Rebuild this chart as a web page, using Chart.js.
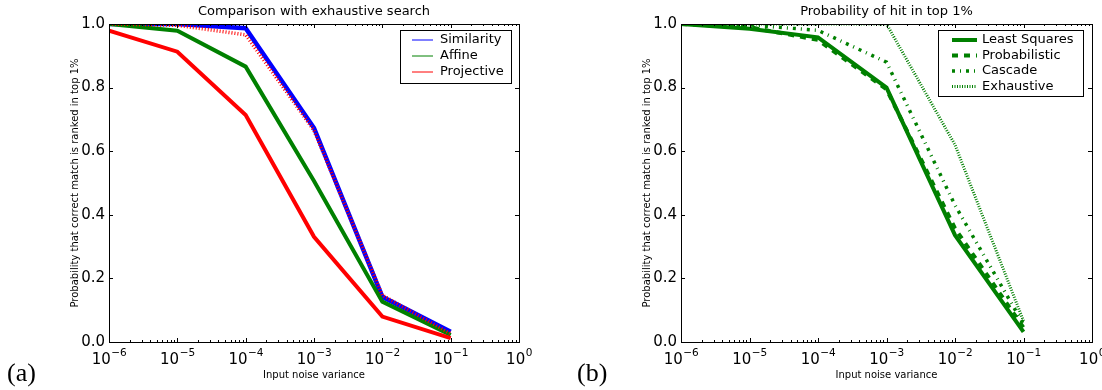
<!DOCTYPE html>
<html lang="en">
<head>
<meta charset="UTF-8">
<title>Input noise variance</title>
<script src="https://cdn.jsdelivr.net/npm/chart.js@4.4.0/dist/chart.umd.min.js"></script>
<style>
    body { margin: 0; background: #fff; width: 1102px; height: 390px; position: relative; overflow: hidden; }
    canvas { position: absolute; top: 0; }
    #chartA { left: 0; }
    #chartB { left: 560px; }
    .tag { position: absolute; top: 358px; font-family: "Liberation Serif", serif; font-size: 26px; color: #000; }
</style>
</head>
<body>
<canvas id="chartA" width="560" height="390"></canvas>
<canvas id="chartB" width="542" height="390"></canvas>
<div class="tag" style="left:7px">(a)</div>
<div class="tag" style="left:577px">(b)</div>
<script>
// x positions of the measurements (noise variance)
const noise = [1e-6, 1e-5, 1e-4, 1e-3, 1e-2, 1e-1];
const xTicks = [1e-6, 1e-5, 1e-4, 1e-3, 1e-2, 1e-1, 1];
const xTickExp = ['-6', '-5', '-4', '-3', '-2', '-1', '0'];
const yTicks = [0, 0.2, 0.4, 0.6, 0.8, 1.0];
const yTickLabels = ['0.0', '0.2', '0.4', '0.6', '0.8', '1.0'];

// (a) comparison with exhaustive search
const similarity = [1.0, 1.0, 0.987, 0.673, 0.142, 0.032];
const affine = [1.0, 0.979, 0.866, 0.506, 0.127, 0.022];
const projective = [0.979, 0.913, 0.714, 0.331, 0.080, 0.012];
const projectiveDotted = [1.0, 0.996, 0.966, 0.665, 0.147, 0.026];

// (b) probability of hit in top 1%
const leastSquares = [1.0, 0.985, 0.958, 0.800, 0.336, 0.032];
const probabilistic = [1.0, 0.990, 0.950, 0.795, 0.357, 0.045];
const cascade = [1.0, 0.997, 0.980, 0.880, 0.430, 0.056];
const exhaustive = [1.0, 1.0, 1.0, 1.0, 0.620, 0.066];

const FONT = '"DejaVu Sans", sans-serif';
const yTitle = 'Probability that correct match is ranked in top 1%';
const xTitle = 'Input noise variance';

function pts(arr) {
    return noise.map((x, i) => ({ x: x, y: arr[i] }));
}

function line(label, arr, color, width, dash, order) {
    return {
        label: label, data: pts(arr), borderColor: color, borderWidth: width,
        borderDash: dash || [], pointRadius: 0, tension: 0, fill: false,
        clip: 0, order: order
    };
}

// draws the matplotlib style frame, ticks, labels and legend
const frame = {
    id: 'frame',
    afterDraw(chart, args, o) {
        const ctx = chart.ctx;
        const a = chart.chartArea;
        const xs = chart.scales.x, ys = chart.scales.y;
        ctx.save();
        ctx.strokeStyle = '#000';
        ctx.lineWidth = 1;
        ctx.strokeRect(Math.round(a.left) + 0.5, Math.round(a.top) + 0.5,
            Math.round(a.right - a.left), Math.round(a.bottom - a.top));

        ctx.beginPath();
        // x ticks, major and minor, inward on bottom and top
        for (let d = -6; d <= 0; d++) {
            const px = Math.round(xs.getPixelForValue(Math.pow(10, d))) + 0.5;
            ctx.moveTo(px, a.bottom); ctx.lineTo(px, a.bottom - 4);
            ctx.moveTo(px, a.top); ctx.lineTo(px, a.top + 4);
            if (d === 0) break;
            for (let m = 2; m <= 9; m++) {
                const mx = Math.round(xs.getPixelForValue(m * Math.pow(10, d))) + 0.5;
                ctx.moveTo(mx, a.bottom); ctx.lineTo(mx, a.bottom - 2);
                ctx.moveTo(mx, a.top); ctx.lineTo(mx, a.top + 2);
            }
        }
        // y ticks on both sides
        yTicks.forEach(v => {
            const py = Math.round(ys.getPixelForValue(v)) + 0.5;
            ctx.moveTo(a.left, py); ctx.lineTo(a.left + 4, py);
            ctx.moveTo(a.right, py); ctx.lineTo(a.right - 4, py);
        });
        ctx.stroke();

        ctx.fillStyle = '#000';
        // y tick labels
        ctx.font = '15px ' + FONT;
        ctx.textAlign = 'right';
        ctx.textBaseline = 'middle';
        yTicks.forEach((v, i) => {
            ctx.fillText(yTickLabels[i], a.left - 4, ys.getPixelForValue(v));
        });
        // x tick labels: 10 with superscript exponent
        ctx.textAlign = 'left';
        ctx.textBaseline = 'alphabetic';
        xTicks.forEach((v, i) => {
            const px = xs.getPixelForValue(v);
            ctx.font = '15px ' + FONT;
            const w1 = ctx.measureText('10').width;
            ctx.font = '10.5px ' + FONT;
            const exp = xTickExp[i].replace('-', '\u2212');
            const w2 = ctx.measureText(exp).width;
            const x0 = px - (w1 + w2) / 2;
            ctx.font = '15px ' + FONT;
            ctx.fillText('10', x0, a.bottom + 22);
            ctx.font = '10.5px ' + FONT;
            ctx.fillText(exp, x0 + w1 + 0.5, a.bottom + 14);
        });

        // titles
        ctx.textAlign = 'center';
        ctx.textBaseline = 'middle';
        ctx.font = '13px ' + FONT;
        ctx.fillText(o.title, (a.left + a.right) / 2, 12);
        ctx.font = '10px ' + FONT;
        ctx.fillText(xTitle, (a.left + a.right) / 2, a.bottom + 33);
        ctx.save();
        ctx.translate(a.left - 34, (a.top + a.bottom) / 2);
        ctx.rotate(-Math.PI / 2);
        ctx.fillText(yTitle, 0, 0);
        ctx.restore();

        // legend
        const L = o.legend;
        ctx.fillStyle = '#fff';
        ctx.fillRect(L.x, L.y, L.w, L.h);
        ctx.strokeStyle = '#000';
        ctx.lineWidth = 1;
        ctx.strokeRect(L.x + 0.5, L.y + 0.5, L.w, L.h);
        ctx.font = '13px ' + FONT;
        ctx.textAlign = 'left';
        ctx.textBaseline = 'middle';
        L.items.forEach((it, i) => {
            const ds = chart.data.datasets[it.ds];
            const y = L.y + L.first + i * L.step;
            ctx.beginPath();
            ctx.strokeStyle = ds.borderColor;
            ctx.lineWidth = it.width;
            ctx.setLineDash(it.dash || []);
            ctx.moveTo(L.x + L.s0, y); ctx.lineTo(L.x + L.s1, y);
            ctx.stroke();
            ctx.setLineDash([]);
            ctx.fillStyle = '#000';
            ctx.fillText(ds.label, L.x + L.tx, y);
        });
        ctx.restore();
    }
};

function makeChart(id, datasets, pad, title, legend) {
    return new Chart(document.getElementById(id), {
        type: 'line',
        data: { datasets: datasets },
        options: {
            responsive: false,
            animation: false,
            layout: { padding: pad },
            scales: {
                x: { type: 'logarithmic', min: 1e-6, max: 1, display: false },
                y: { type: 'linear', min: 0, max: 1, display: false }
            },
            plugins: {
                legend: { display: false },
                tooltip: { enabled: false },
                frame: { title: title, legend: legend }
            }
        },
        plugins: [frame]
    });
}

makeChart('chartA', [
    line('Similarity', similarity, '#0000ff', 4.5, [], 4),
    line('Affine', affine, '#008000', 4, [], 3),
    line('Projective', projective, '#ff0000', 4, [], 2),
    line('Projective (dotted)', projectiveDotted, '#ff0000', 3.5, [1, 2], 1)
], { left: 109, right: 41, top: 24, bottom: 48 }, 'Comparison with exhaustive search', {
    x: 400, y: 30, w: 111, h: 53, first: 10, step: 16, s0: 12, s1: 33, tx: 40,
    items: [{ ds: 0, width: 1 }, { ds: 1, width: 1 }, { ds: 2, width: 1 }]
});

makeChart('chartB', [
    line('Least Squares', leastSquares, '#008000', 4, [], 1),
    line('Probabilistic', probabilistic, '#008000', 4, [6, 6], 2),
    line('Cascade', cascade, '#008000', 3.5, [3, 5, 1, 5], 3),
    line('Exhaustive', exhaustive, '#008000', 3, [1, 1.5], 4)
], { left: 121, right: 10, top: 24, bottom: 48 }, 'Probability of hit in top 1%', {
    x: 378, y: 30, w: 145, h: 66, first: 10, step: 15.5, s0: 14, s1: 39, tx: 44,
    items: [{ ds: 0, width: 4 }, { ds: 1, width: 4, dash: [6, 6] }, { ds: 2, width: 3.5, dash: [3, 5, 1, 5] }, { ds: 3, width: 3, dash: [1, 1.5] }]
});
</script>
</body>
</html>
